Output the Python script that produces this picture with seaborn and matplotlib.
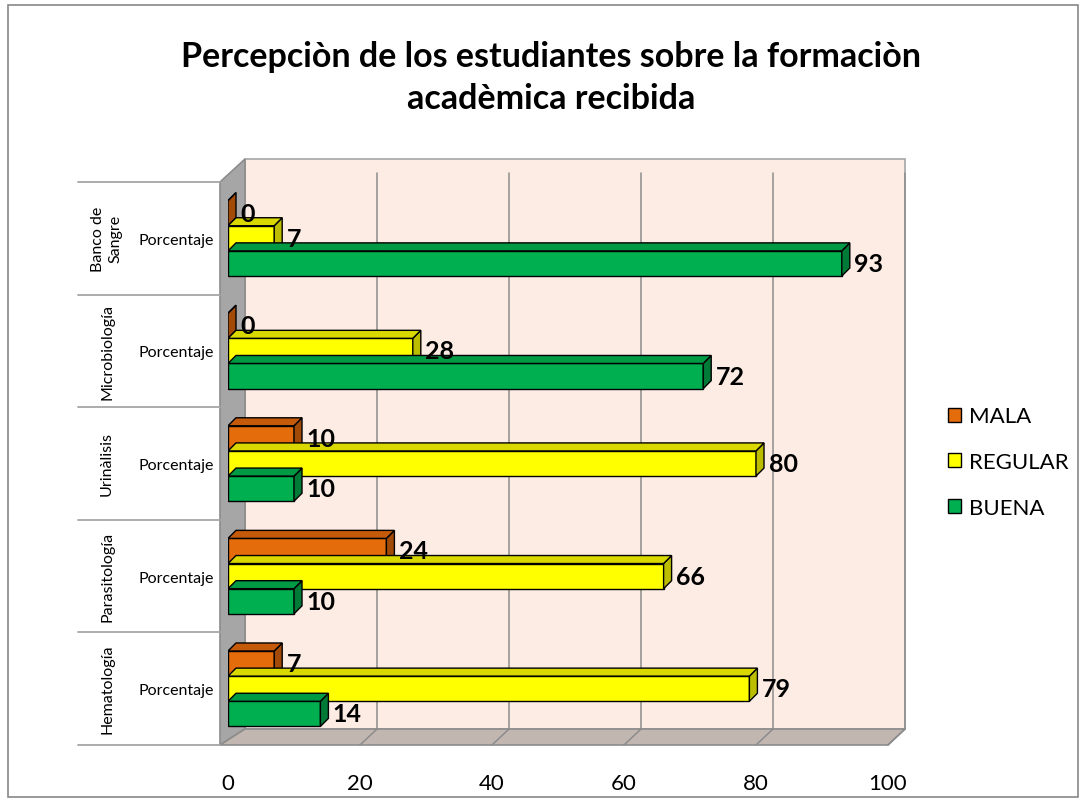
import numpy as np
import pandas as pd
import seaborn as sns
import matplotlib.pyplot as plt
import matplotlib.transforms as mtransforms
from matplotlib.patches import Polygon, Rectangle
from matplotlib.lines import Line2D

# ---------------- data ----------------
categories = ["Banco de\nSangre", "Microbiología", "Urinàlisis", "Parasitología", "Hematología"]
series = ["MALA", "REGULAR", "BUENA"]
mala = [0, 0, 10, 24, 7]
regular = [7, 28, 80, 66, 79]
buena = [93, 72, 10, 10, 14]
sub_label = "Porcentaje"
x_ticks = [0, 20, 40, 60, 80, 100]
title = "Percepciòn de los estudiantes sobre la formaciòn\nacadèmica recibida"

face_colors = {"MALA": "#E46C0A", "REGULAR": "#FFFF00", "BUENA": "#00B050"}
side_colors = {"MALA": "#A24A08", "REGULAR": "#BDBD00", "BUENA": "#007A37"}
top_colors = {"MALA": "#C45A0A", "REGULAR": "#D9D900", "BUENA": "#009944"}

df = pd.DataFrame({
    "cat": categories * 3,
    "serie": ["MALA"] * 5 + ["REGULAR"] * 5 + ["BUENA"] * 5,
    "val": mala + regular + buena,
})

W, H = 1087, 804
sns.set_theme(style="white")
plt.rcParams["font.family"] = ["Lato", "DejaVu Sans"]
plt.rcParams["text.color"] = "black"
plt.rcParams["xtick.color"] = "black"
plt.rcParams["ytick.color"] = "black"

fig = plt.figure(figsize=(W / 100, H / 100), dpi=100)
fig.patch.set_facecolor("white")


def fpx(x, y):
    return (x / W, 1 - y / H)


# axes = front face of plot area
ax_left, ax_right, ax_top, ax_bot = 228, 888, 183, 746
ax = fig.add_axes([ax_left / W, 1 - ax_bot / H, (ax_right - ax_left) / W, (ax_bot - ax_top) / H])
ax.set_facecolor("none")

# ---- decorative 3D walls (figure pixel coords) ----
DX, DY = 17, 16  # back-wall offset (px)
wall = Polygon([fpx(ax_left + DX, ax_top - 23), fpx(905, ax_top - 23), fpx(905, ax_bot - DY), fpx(ax_left + DX, ax_bot - DY)],
               closed=True, transform=fig.transFigure, facecolor="#FDECE4", edgecolor="#A6A6A6", lw=1.2, zorder=-3)
left_wall = Polygon([fpx(220, ax_top), fpx(ax_left + DX, ax_top - 23), fpx(ax_left + DX, ax_bot - DY), fpx(220, ax_bot)],
                    closed=True, transform=fig.transFigure, facecolor="#A6A6A6", edgecolor="#8C8C8C", lw=1.2, zorder=-2)
floor = Polygon([fpx(220, ax_bot), fpx(ax_left + DX, ax_bot - DY), fpx(905, ax_bot - DY), fpx(ax_right, ax_bot)],
                closed=True, transform=fig.transFigure, facecolor="#C2B6B1", edgecolor="#8C8C8C", lw=1.2, zorder=-2)
for p in (wall, left_wall, floor):
    fig.patches.append(p)

# outer frame
fig.patches.append(Rectangle(fpx(8, 798), (1078 - 8) / W, (798 - 6) / H, transform=fig.transFigure,
                             fill=False, edgecolor="#888888", lw=1.2, zorder=-5))

# ---- bars ----
sns.barplot(data=df, y="cat", x="val", hue="serie", order=categories, hue_order=series,
            palette=face_colors, orient="h", width=0.67, saturation=1, ax=ax,
            edgecolor="black", linewidth=1.0, legend=False, zorder=3)

ax.set_xlim(0, 100)
ax.set_ylim(len(categories) - 0.5, -0.5)

# gridlines on back wall + floor
back_off = mtransforms.ScaledTranslation(DX / 100, DY / 100, fig.dpi_scale_trans)
xt = ax.get_xaxis_transform()
for xv in x_ticks[1:]:
    ax.plot([xv, xv], [0.0, 1.0 - 7 / 563], transform=xt + back_off,
            color="#8C8C8C", lw=1.1, zorder=0, clip_on=False)
    p1 = (xt + back_off).transform((xv, 0))
    p2 = xt.transform((xv, 0))
    fig.add_artist(Line2D([p1[0], p2[0]], [p1[1], p2[1]], transform=mtransforms.IdentityTransform(),
                          color="#8C8C8C", lw=1.1, zorder=-1))

# 3D faces of bars
dxd = 8 * 100 / (ax_right - ax_left)
dyd = -8 * len(categories) / (ax_bot - ax_top)
for i, container in enumerate(ax.containers):
    s = series[i]
    for bar in container:
        x0, y0 = bar.get_x(), bar.get_y()
        w, h = bar.get_width(), bar.get_height()
        ytop, ybot = y0, y0 + h
        side = Polygon([(x0 + w, ytop), (x0 + w + dxd, ytop + dyd), (x0 + w + dxd, ybot + dyd), (x0 + w, ybot)],
                       closed=True, facecolor=side_colors[s], edgecolor="black", lw=1.0, zorder=3)
        top = Polygon([(x0, ytop), (x0 + w, ytop), (x0 + w + dxd, ytop + dyd), (x0 + dxd, ytop + dyd)],
                      closed=True, facecolor=top_colors[s], edgecolor="black", lw=1.0, zorder=3)
        ax.add_patch(side)
        ax.add_patch(top)
    ax.bar_label(container, labels=[f"{v:g}" for v in container.datavalues], padding=9,
                 fontsize=18, fontweight="bold", color="black", zorder=5)

for sp in ax.spines.values():
    sp.set_visible(False)

# x ticks
ax.set_xticks(x_ticks)
ax.set_xticklabels([str(t) for t in x_ticks], fontsize=16)
ax.tick_params(axis="x", length=0, pad=20)
ax.set_xlabel("")

# y tick labels (sub label) and category names
ax.set_yticks(range(len(categories)))
ax.set_yticklabels([sub_label] * len(categories), fontsize=11.5)
ax.tick_params(axis="y", length=0, pad=10)
ax.set_ylabel("")
trans = mtransforms.blended_transform_factory(ax.transAxes, ax.transData)
for i, c in enumerate(categories):
    ax.text((107 - ax_left) / (ax_right - ax_left), i, c, rotation=90, ha="center", va="center",
            fontsize=11.5, transform=trans, linespacing=1.35)
for b in np.arange(-0.5, len(categories), 1.0):
    ax.plot([(78 - ax_left) / (ax_right - ax_left), (220 - ax_left) / (ax_right - ax_left)], [b, b],
            transform=trans, color="#A6A6A6", lw=1.3, clip_on=False, zorder=1)

# legend
handles = [Rectangle((0, 0), 1, 1, facecolor=face_colors[s], edgecolor="black", lw=1.0) for s in series]
fig.legend(handles, series, loc="center left", bbox_to_anchor=(928 / W, 1 - 463 / H), frameon=False,
           fontsize=16, handlelength=0.6, handleheight=0.6, handletextpad=0.35, labelspacing=1.15)

fig.text(551 / W, 1 - 78 / H, title, ha="center", va="center", fontsize=24.5, fontweight="bold", linespacing=1.4)

fig.savefig("out.png", dpi=100, facecolor="white")
